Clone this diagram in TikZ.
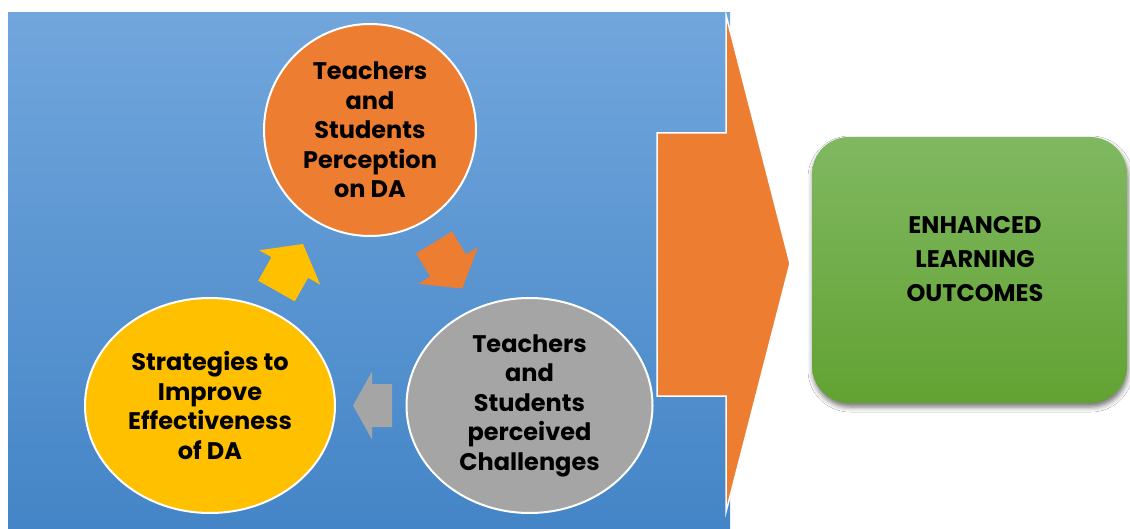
\documentclass[tikz,border=0pt]{standalone}
\usepackage{fontspec}
\setmainfont{Poppins}
\usetikzlibrary{shapes.geometric,shadows.blur}
\definecolor{bluetop}{HTML}{71A6DC}
\definecolor{bluebot}{HTML}{4485C7}
\definecolor{orangeA}{HTML}{ED7D31}
\definecolor{grayA}{HTML}{A5A5A5}
\definecolor{yellowA}{HTML}{FFC000}
\definecolor{greentop}{HTML}{80B861}
\definecolor{greenbot}{HTML}{62A232}
\tikzset{
  bubble/.style={ellipse, draw=white, line width=2pt, inner sep=0pt, align=center,
    font=\bfseries\fontsize{24}{29.5}\selectfont, text=black},
  blockarrow/.style={line width=0pt},
}
\begin{document}
\begin{tikzpicture}[x=1pt,y=-1pt]
\useasboundingbox (0,0) rectangle (1130,529);
\fill[white] (0,0) rectangle (1130,529);
% blue panel
\shade[top color=bluetop,bottom color=bluebot] (8,12.7) rectangle (730,529);
% big orange arrow
\filldraw[fill=orangeA, draw=white, line width=1.5pt, line join=miter]
  (657,133) -- (726,133) -- (726,15) -- (790,263.5) -- (726,512) -- (726,396) -- (657,396) -- cycle;
% circles
\node[bubble, fill=orangeA, minimum width=212, minimum height=212] (perc) at (370,130)
  {Teachers\\and\\Students\\Perception\\on DA};
\node[bubble, fill=grayA, minimum width=246, minimum height=215] (chal) at (529.5,405.5)
  {Teachers\\and\\Students\\perceived\\Challenges};
\node[bubble, fill=yellowA, minimum width=250, minimum height=215] (strat) at (210,405.5)
  {Strategies to\\Improve\\Effectiveness\\of DA};
% small block arrows
\fill[yellowA, shift={(276.5,291)}, rotate=60.6]
  (0,-21) -- (27,-21) -- (27,-35) -- (54,0) -- (27,35) -- (27,21) -- (0,21) -- cycle;
\fill[orangeA, shift={(434,242.5)}, rotate=-58.4]
  (0,-21) -- (27,-21) -- (27,-35) -- (54,0) -- (27,35) -- (27,21) -- (0,21) -- cycle;
\fill[grayA, shift={(392,405.5)}, rotate=180]
  (0,-21.5) -- (20,-21.5) -- (20,-34) -- (39,0) -- (20,34) -- (20,21.5) -- (0,21.5) -- cycle;
% outcome box
\node[rounded corners=37pt, minimum width=315, minimum height=266, inner sep=0pt,
  top color=greentop, bottom color=greenbot,
  blur shadow={shadow xshift=1pt, shadow yshift=-4pt, shadow blur radius=5pt, shadow opacity=55}]
  (outbox) at (969.5,270) {};
\node[align=center, font=\bfseries\fontsize{24}{34}\selectfont, text=black] (outtext) at (975,259)
  {ENHANCED\\LEARNING\\OUTCOMES};
\end{tikzpicture}
\end{document}
